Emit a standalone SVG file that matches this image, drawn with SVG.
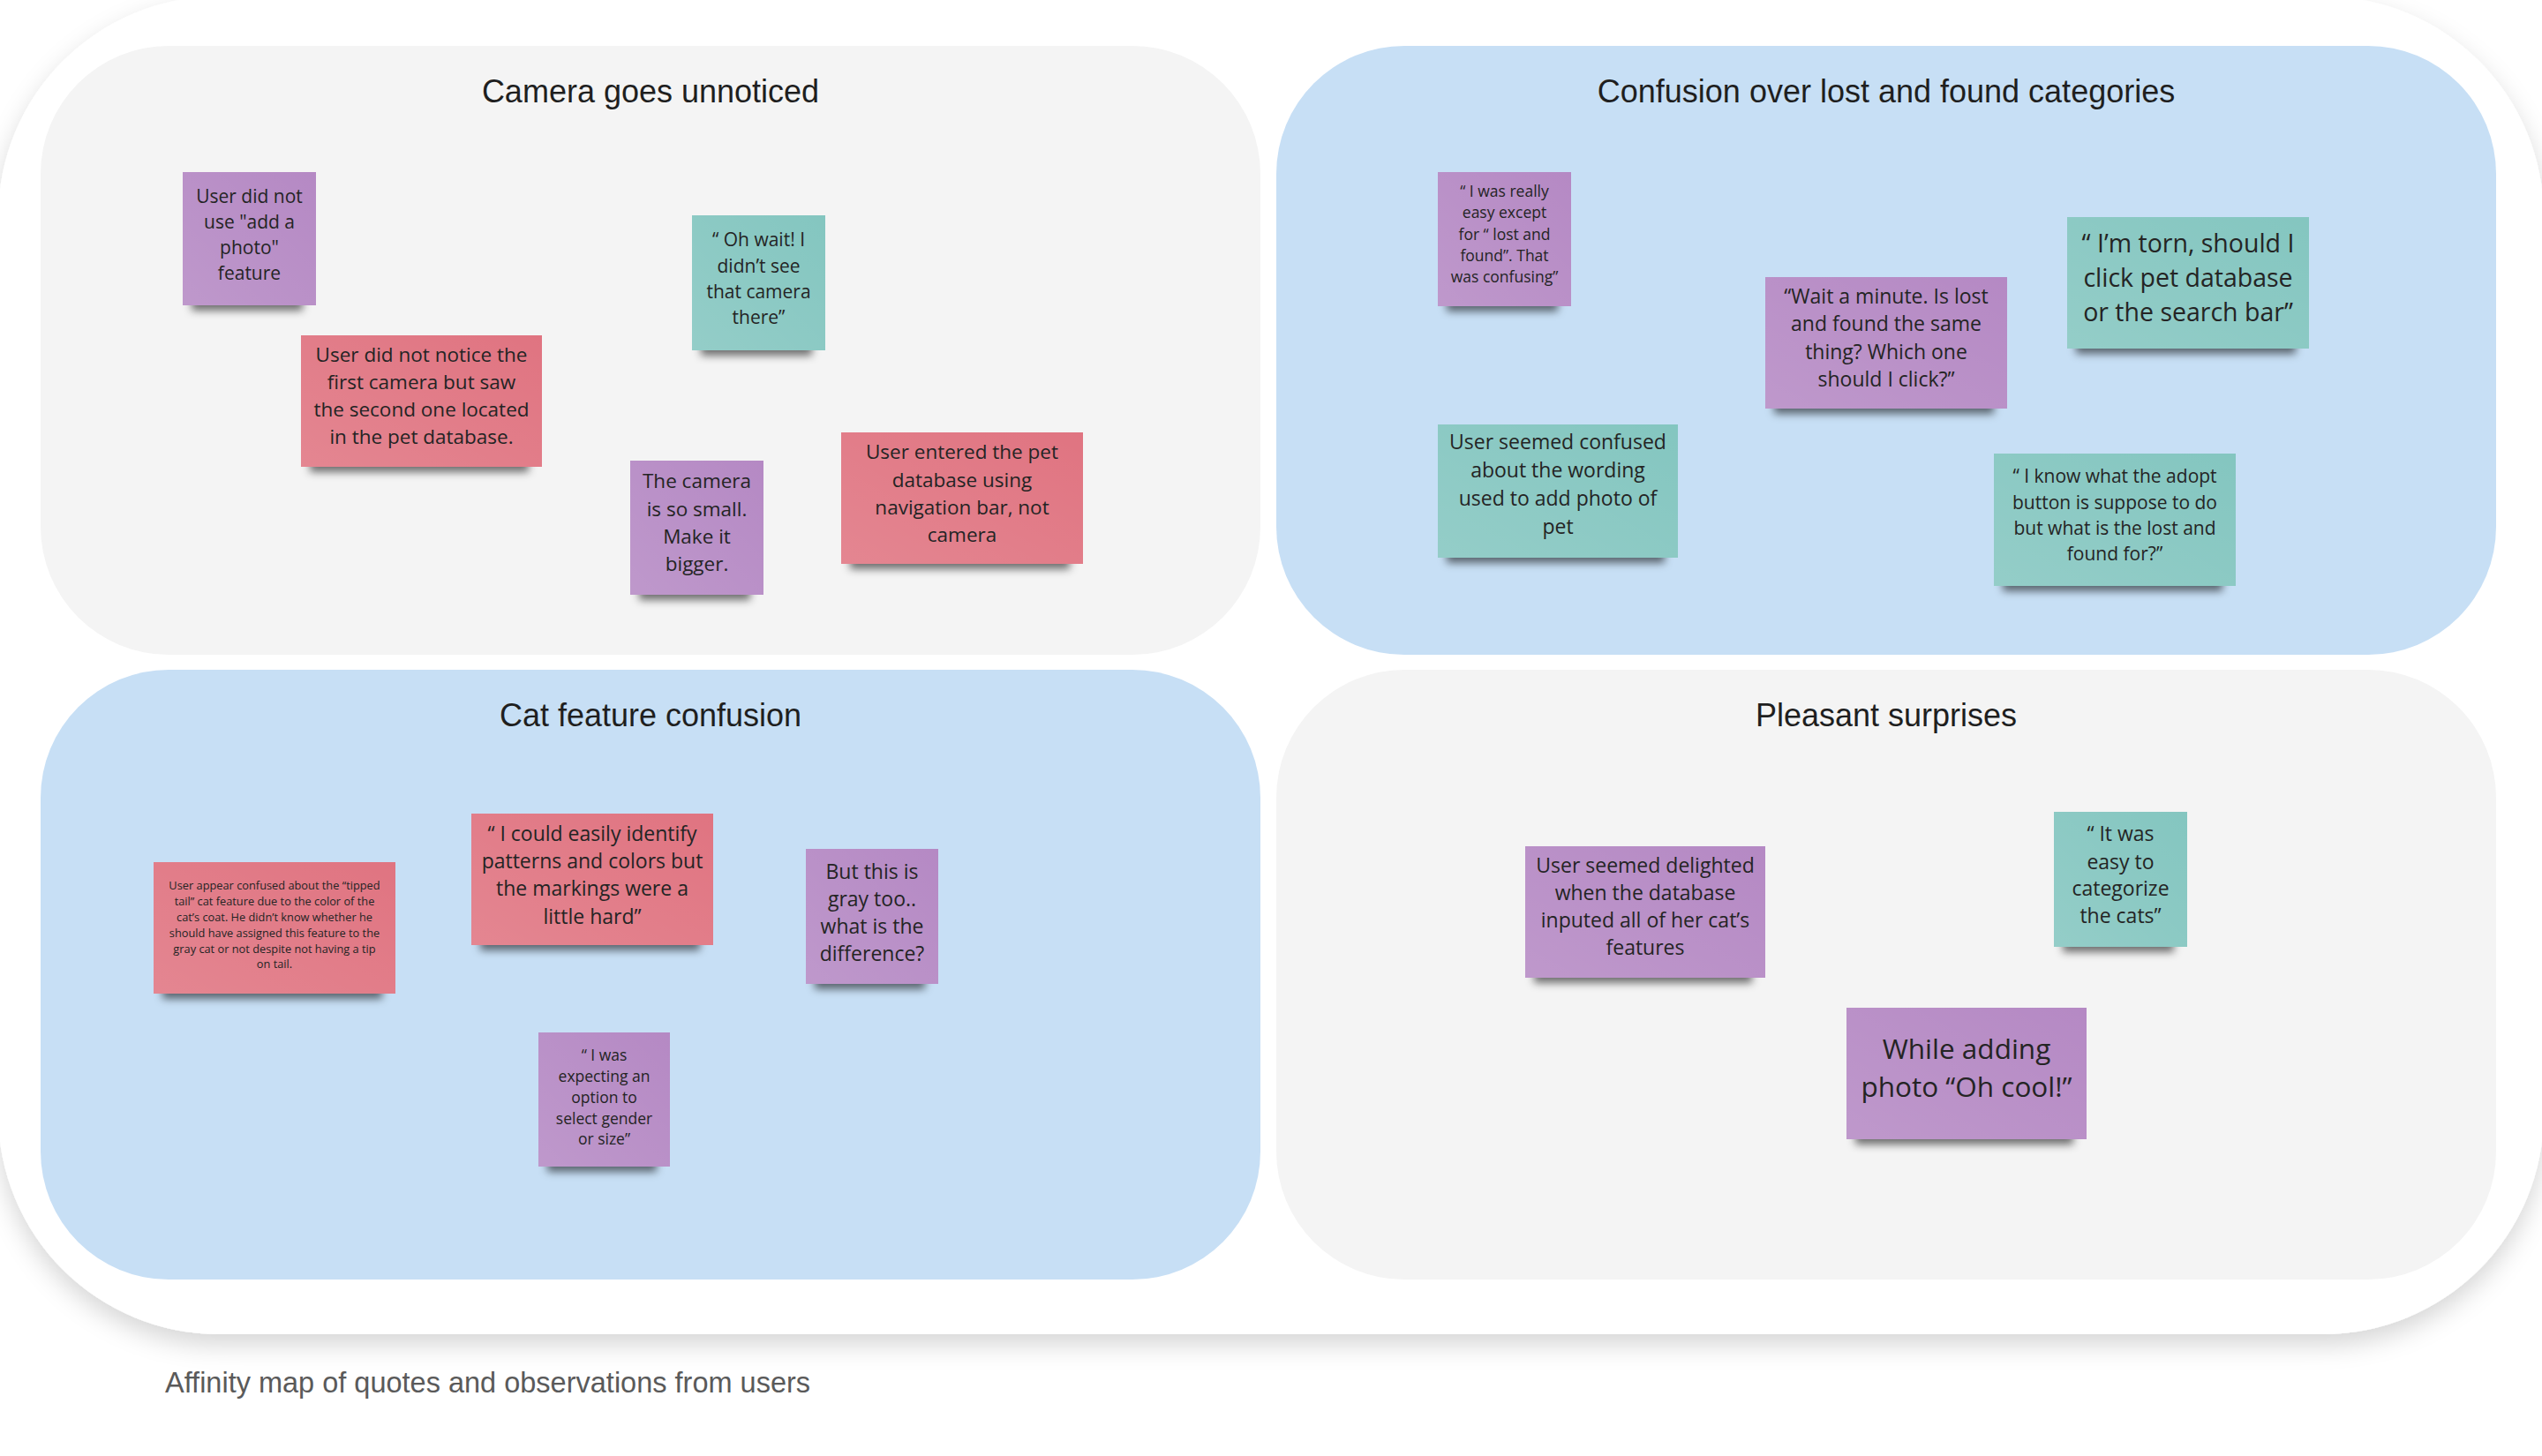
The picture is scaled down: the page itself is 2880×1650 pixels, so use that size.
<svg xmlns="http://www.w3.org/2000/svg" width="2880" height="1650" viewBox="0 0 2880 1650">
<defs>
<filter id="frameShadow" x="-5%" y="-5%" width="110%" height="115%">
<feDropShadow dx="0" dy="12" stdDeviation="14" flood-color="#000" flood-opacity="0.16"/>
</filter>
<filter id="noteBlur" x="-20%" y="-100%" width="140%" height="300%">
<feGaussianBlur stdDeviation="5"/>
</filter>
<linearGradient id="sheen" x1="1" y1="0" x2="0" y2="1">
<stop offset="0" stop-color="#fff" stop-opacity="0"/>
<stop offset="1" stop-color="#fff" stop-opacity="0.13"/>
</linearGradient>
<style>
.gray{fill:#f4f4f4}
.blue{fill:#c7dff5}
.title{font-family:"Liberation Sans",Arial,sans-serif;font-size:36px;fill:#1f1f1f;text-anchor:middle}
.caption{font-family:"Liberation Sans",Arial,sans-serif;font-size:32.5px;fill:#5a5a5a}
.sh{fill:#000;fill-opacity:0.55;filter:url(#noteBlur)}
.pu{fill:#b589c4}
.rd{fill:#e07481}
.tl{fill:#84c6c0}
.sn{fill:url(#sheen)}
.note text{font-family:"Open Sans","Liberation Sans",sans-serif;fill:#242424;text-anchor:middle}
</style>
</defs>
<rect width="2880" height="1650" fill="#fff"/>
<rect id="frame" x="-2" y="-4" width="2884" height="1516" rx="250" fill="#fff" filter="url(#frameShadow)"/>

<g id="panel-camera">
<rect class="gray" x="46" y="52" width="1382" height="690" rx="145"/>
<text class="title" x="737" y="116">Camera goes unnoticed</text>
</g>
<g id="panel-lostfound">
<rect class="blue" x="1446" y="52" width="1382" height="690" rx="145"/>
<text class="title" x="2137" y="116">Confusion over lost and found categories</text>
</g>
<g id="panel-cat">
<rect class="blue" x="46" y="759" width="1382" height="691" rx="145"/>
<text class="title" x="737" y="823">Cat feature confusion</text>
</g>
<g id="panel-pleasant">
<rect class="gray" x="1446" y="759" width="1382" height="691" rx="145"/>
<text class="title" x="2137" y="823">Pleasant surprises</text>
</g>

<g id="connectors"/>

<g id="n1" class="note">
<rect class="sh" x="217" y="328" width="126" height="24"/>
<rect class="pu" x="207" y="195" width="151" height="151"/>
<rect class="sn" x="207" y="195" width="151" height="151"/>
<text font-size="21"><tspan x="282.5" y="230">User did not</tspan><tspan x="282.5" y="259">use "add a</tspan><tspan x="282.5" y="288">photo"</tspan><tspan x="282.5" y="317">feature</tspan></text>
</g>
<g id="n2" class="note">
<rect class="sh" x="351" y="511" width="248" height="24"/>
<rect class="rd" x="341" y="380" width="273" height="149"/>
<rect class="sn" x="341" y="380" width="273" height="149"/>
<text font-size="22.5"><tspan x="477.5" y="410">User did not notice the</tspan><tspan x="477.5" y="441">first camera but saw</tspan><tspan x="477.5" y="472">the second one located</tspan><tspan x="477.5" y="503">in the pet database.</tspan></text>
</g>
<g id="n3" class="note">
<rect class="sh" x="794" y="379" width="126" height="24"/>
<rect class="tl" x="784" y="244" width="151" height="153"/>
<rect class="sn" x="784" y="244" width="151" height="153"/>
<text font-size="21"><tspan x="859.5" y="279">“ Oh wait! I</tspan><tspan x="859.5" y="309">didn’t see</tspan><tspan x="859.5" y="338">that camera</tspan><tspan x="859.5" y="367">there”</tspan></text>
</g>
<g id="n4" class="note">
<rect class="sh" x="724" y="656" width="126" height="24"/>
<rect class="pu" x="714" y="522" width="151" height="152"/>
<rect class="sn" x="714" y="522" width="151" height="152"/>
<text font-size="22.5"><tspan x="789.5" y="553">The camera</tspan><tspan x="789.5" y="585">is so small.</tspan><tspan x="789.5" y="616">Make it</tspan><tspan x="789.5" y="647">bigger.</tspan></text>
</g>
<g id="n5" class="note">
<rect class="sh" x="963" y="621" width="249" height="24"/>
<rect class="rd" x="953" y="490" width="274" height="149"/>
<rect class="sn" x="953" y="490" width="274" height="149"/>
<text font-size="22.5"><tspan x="1090" y="520">User entered the pet</tspan><tspan x="1090" y="552">database using</tspan><tspan x="1090" y="583">navigation bar, not</tspan><tspan x="1090" y="614">camera</tspan></text>
</g>

<g id="n6" class="note">
<rect class="sh" x="1639" y="329" width="126" height="24"/>
<rect class="pu" x="1629" y="195" width="151" height="152"/>
<rect class="sn" x="1629" y="195" width="151" height="152"/>
<text font-size="17.5"><tspan x="1704.5" y="223">“ I was really</tspan><tspan x="1704.5" y="247">easy except</tspan><tspan x="1704.5" y="272">for “ lost and</tspan><tspan x="1704.5" y="296">found”. That</tspan><tspan x="1704.5" y="320">was confusing”</tspan></text>
</g>
<g id="n7" class="note">
<rect class="sh" x="2010" y="445" width="249" height="24"/>
<rect class="pu" x="2000" y="314" width="274" height="149"/>
<rect class="sn" x="2000" y="314" width="274" height="149"/>
<text font-size="23"><tspan x="2137" y="344">“Wait a minute. Is lost</tspan><tspan x="2137" y="375">and found the same</tspan><tspan x="2137" y="407">thing? Which one</tspan><tspan x="2137" y="438">should I click?”</tspan></text>
</g>
<g id="n8" class="note">
<rect class="sh" x="2352" y="377" width="249" height="24"/>
<rect class="tl" x="2342" y="246" width="274" height="149"/>
<rect class="sn" x="2342" y="246" width="274" height="149"/>
<text font-size="28.5"><tspan x="2479" y="286">“ I’m torn, should I</tspan><tspan x="2479" y="325">click pet database</tspan><tspan x="2479" y="364">or the search bar”</tspan></text>
</g>
<g id="n9" class="note">
<rect class="sh" x="1639" y="614" width="247" height="24"/>
<rect class="tl" x="1629" y="481" width="272" height="151"/>
<rect class="sn" x="1629" y="481" width="272" height="151"/>
<text font-size="23"><tspan x="1765" y="509">User seemed confused</tspan><tspan x="1765" y="541">about the wording</tspan><tspan x="1765" y="573">used to add photo of</tspan><tspan x="1765" y="605">pet</tspan></text>
</g>
<g id="n10" class="note">
<rect class="sh" x="2269" y="646" width="249" height="24"/>
<rect class="tl" x="2259" y="514" width="274" height="150"/>
<rect class="sn" x="2259" y="514" width="274" height="150"/>
<text font-size="21"><tspan x="2396" y="547">“ I know what the adopt</tspan><tspan x="2396" y="577">button is suppose to do</tspan><tspan x="2396" y="606">but what is the lost and</tspan><tspan x="2396" y="635">found for?”</tspan></text>
</g>

<g id="n11" class="note">
<rect class="sh" x="184" y="1108" width="249" height="24"/>
<rect class="rd" x="174" y="977" width="274" height="149"/>
<rect class="sn" x="174" y="977" width="274" height="149"/>
<text font-size="12.8"><tspan x="311" y="1008">User appear confused about the “tipped</tspan><tspan x="311" y="1026">tail” cat feature due to the color of the</tspan><tspan x="311" y="1044">cat’s coat. He didn’t know whether he</tspan><tspan x="311" y="1062">should have assigned this feature to the</tspan><tspan x="311" y="1080">gray cat or not despite not having a tip</tspan><tspan x="311" y="1097">on tail.</tspan></text>
</g>
<g id="n12" class="note">
<rect class="sh" x="544" y="1053" width="249" height="24"/>
<rect class="rd" x="534" y="922" width="274" height="149"/>
<rect class="sn" x="534" y="922" width="274" height="149"/>
<text font-size="23"><tspan x="671" y="953">“ I could easily identify</tspan><tspan x="671" y="984">patterns and colors but</tspan><tspan x="671" y="1015">the markings were a</tspan><tspan x="671" y="1047">little hard”</tspan></text>
</g>
<g id="n13" class="note">
<rect class="sh" x="923" y="1097" width="125" height="24"/>
<rect class="pu" x="913" y="962" width="150" height="153"/>
<rect class="sn" x="913" y="962" width="150" height="153"/>
<text font-size="23"><tspan x="988" y="996">But this is</tspan><tspan x="988" y="1027">gray too..</tspan><tspan x="988" y="1058">what is the</tspan><tspan x="988" y="1089">difference?</tspan></text>
</g>
<g id="n14" class="note">
<rect class="sh" x="620" y="1304" width="124" height="24"/>
<rect class="pu" x="610" y="1170" width="149" height="152"/>
<rect class="sn" x="610" y="1170" width="149" height="152"/>
<text font-size="17.5"><tspan x="684.5" y="1202">“ I was</tspan><tspan x="684.5" y="1226">expecting an</tspan><tspan x="684.5" y="1250">option to</tspan><tspan x="684.5" y="1274">select gender</tspan><tspan x="684.5" y="1297">or size”</tspan></text>
</g>

<g id="n15" class="note">
<rect class="sh" x="1738" y="1090" width="247" height="24"/>
<rect class="pu" x="1728" y="959" width="272" height="149"/>
<rect class="sn" x="1728" y="959" width="272" height="149"/>
<text font-size="23"><tspan x="1864" y="989">User seemed delighted</tspan><tspan x="1864" y="1020">when the database</tspan><tspan x="1864" y="1051">inputed all of her cat’s</tspan><tspan x="1864" y="1082">features</tspan></text>
</g>
<g id="n16" class="note">
<rect class="sh" x="2337" y="1055" width="126" height="24"/>
<rect class="tl" x="2327" y="920" width="151" height="153"/>
<rect class="sn" x="2327" y="920" width="151" height="153"/>
<text font-size="23"><tspan x="2402.5" y="953">“ It was</tspan><tspan x="2402.5" y="985">easy to</tspan><tspan x="2402.5" y="1015">categorize</tspan><tspan x="2402.5" y="1046">the cats”</tspan></text>
</g>
<g id="n17" class="note">
<rect class="sh" x="2102" y="1273" width="247" height="24"/>
<rect class="pu" x="2092" y="1142" width="272" height="149"/>
<rect class="sn" x="2092" y="1142" width="272" height="149"/>
<text font-size="31.5"><tspan x="2228" y="1200">While adding</tspan><tspan x="2228" y="1243">photo “Oh cool!”</tspan></text>
</g>

<text id="caption" class="caption" x="187" y="1578">Affinity map of quotes and observations from users</text>
</svg>
